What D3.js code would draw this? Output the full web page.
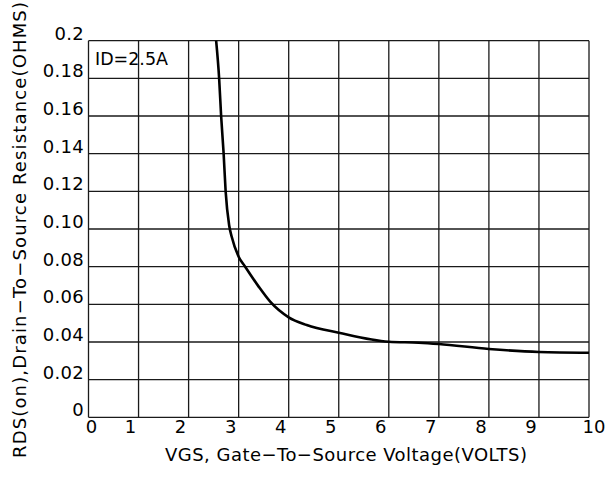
<!DOCTYPE html>
<html><head><meta charset="utf-8">
<script src="https://cdn.jsdelivr.net/npm/d3@7"></script>
<style>
html,body{margin:0;padding:0;background:#fff;}
svg text{font-family:"DejaVu Sans",sans-serif;fill:#000;}
</style></head>
<body><svg id="c" width="606" height="481"></svg>
<script>
const vgs = [2.55, 2.61, 2.65, 2.70, 2.74, 2.81, 2.86, 3.0, 3.13, 3.4, 3.63, 4.0, 4.36, 5.0, 6.0, 6.6, 7.0, 8.0, 9.0, 10.0];
const rds = [0.2, 0.18, 0.16, 0.14, 0.12, 0.102, 0.096, 0.0853, 0.080, 0.0694, 0.0614, 0.0531, 0.049, 0.0449, 0.0401, 0.0396, 0.0389, 0.0363, 0.0347, 0.0343];
const xTicks = [0,1,2,3,4,5,6,7,8,9,10];
const yTicks = [0,0.02,0.04,0.06,0.08,0.10,0.12,0.14,0.16,0.18,0.2];
const yTickLabels = ["0","0.02","0.04","0.06","0.08","0.10","0.12","0.14","0.16","0.18","0.2"];
const xTitle = "VGS, Gate\u2212To\u2212Source Voltage(VOLTS)";
const yTitle = "RDS(on),Drain\u2212To\u2212Source Resistance(OHMS)";
const note = "ID=2.5A";

const svg = d3.select("#c");
const x = d3.scaleLinear().domain([0,10]).range([88.5,589]);
const y = d3.scaleLinear().domain([0,0.2]).range([417.3,40.7]);

const g = svg.append("g");
// grid
g.selectAll(".vg").data(xTicks).enter().append("line")
  .attr("x1",d=>x(d)).attr("x2",d=>x(d)).attr("y1",y(0)).attr("y2",y(0.2))
  .attr("stroke","#1a1a1a").attr("stroke-width",1.3);
g.selectAll(".hg").data(yTicks).enter().append("line")
  .attr("x1",x(0)).attr("x2",x(10)).attr("y1",d=>y(d)).attr("y2",d=>y(d))
  .attr("stroke","#1a1a1a").attr("stroke-width",1.3);

// x tick labels
g.selectAll(".xl").data(xTicks).enter().append("text")
  .attr("x",d=>x(d) + (d===0?3:(d===10?5:-8)))
  .attr("y",433).attr("text-anchor","middle")
  .attr("font-size",18)
  .text(d=>d);

// y tick labels
g.selectAll(".yl").data(yTicks).enter().append("text")
  .attr("x",84).attr("y",d=>y(d)-1).attr("text-anchor","end")
  .attr("font-size",18).attr("letter-spacing",0.3)
  .text((d,i)=>yTickLabels[i]);

// curve
const line = d3.line().x(d=>x(d[0])).y(d=>y(d[1])).curve(d3.curveMonotoneX);
g.append("path").datum(vgs.map((v,i)=>[v,rds[i]]))
  .attr("d",line).attr("fill","none").attr("stroke","#000").attr("stroke-width",2.6);

// note
g.append("text").attr("x",95).attr("y",65).attr("font-size",18)
  .attr("textLength",73).attr("lengthAdjust","spacingAndGlyphs").text(note);

// titles
g.append("text").attr("x",346).attr("y",461).attr("text-anchor","middle")
  .attr("font-size",18).attr("textLength",362).attr("lengthAdjust","spacing").text(xTitle);
g.append("text").attr("transform","translate(26,230) rotate(-90)").attr("text-anchor","middle")
  .attr("font-size",18).attr("textLength",456).attr("lengthAdjust","spacing").text(yTitle);
</script></body></html>
